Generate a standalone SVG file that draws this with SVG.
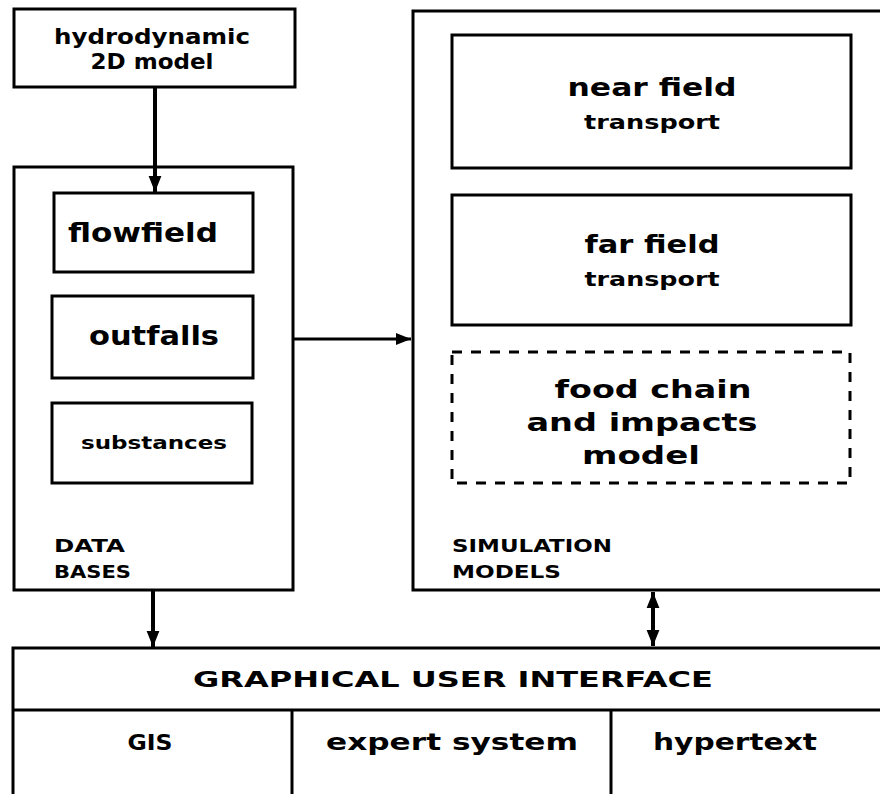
<svg xmlns="http://www.w3.org/2000/svg" width="880" height="794" viewBox="0 0 880 794">
<style>
.box{fill:none;stroke:#000;stroke-width:3}
.dash{fill:none;stroke:#000;stroke-width:3;stroke-dasharray:10 9}
.t{font-family:"DejaVu Sans","Liberation Sans",sans-serif;font-weight:bold;fill:#000;text-anchor:middle}
.l{font-family:"DejaVu Sans","Liberation Sans",sans-serif;font-weight:bold;fill:#000;text-anchor:start}
.c{fill:none;stroke:#000}
</style>
<defs>
<marker id="ah" viewBox="0 0 10 10" refX="10" refY="5" markerWidth="4" markerHeight="4" orient="auto-start-reverse" markerUnits="strokeWidth">
<path d="M0,1 L10,5 L0,9 Z" fill="#000"/>
</marker>
<marker id="ahs" viewBox="0 0 10 10" refX="10" refY="5" markerWidth="7" markerHeight="5" orient="auto" markerUnits="strokeWidth">
<path d="M0,1 L10,5 L0,9 Z" fill="#000"/>
</marker>
</defs>
<rect width="880" height="794" fill="#fff"/>

<g id="hydro">
<rect class="box" x="14" y="9" width="281" height="78"/>
<text class="t" x="152" y="44" font-size="21" textLength="196" lengthAdjust="spacingAndGlyphs">hydrodynamic</text>
<text class="t" x="152" y="69" font-size="21" textLength="123" lengthAdjust="spacingAndGlyphs">2D model</text>
</g>

<g id="databases">
<rect class="box" x="14" y="167" width="279" height="423"/>
<text class="l" x="54" y="552" font-size="17" textLength="71" lengthAdjust="spacingAndGlyphs">DATA</text>
<text class="l" x="54" y="578" font-size="17" textLength="77" lengthAdjust="spacingAndGlyphs">BASES</text>
</g>
<g id="flowfield">
<rect class="box" x="54" y="193" width="199" height="79"/>
<text class="t" x="143" y="242" font-size="27" textLength="150" lengthAdjust="spacingAndGlyphs">flowfield</text>
</g>
<g id="outfalls">
<rect class="box" x="52" y="296" width="201" height="82"/>
<text class="t" x="154" y="345" font-size="26" textLength="130" lengthAdjust="spacingAndGlyphs">outfalls</text>
</g>
<g id="substances">
<rect class="box" x="52" y="403" width="200" height="80"/>
<text class="t" x="154" y="449" font-size="18" textLength="146" lengthAdjust="spacingAndGlyphs">substances</text>
</g>

<g id="simmodels">
<path class="box" d="M890,11 H413 V590 H890"/>
<text class="l" x="452" y="552" font-size="17" textLength="160" lengthAdjust="spacingAndGlyphs">SIMULATION</text>
<text class="l" x="452" y="578" font-size="17" textLength="109" lengthAdjust="spacingAndGlyphs">MODELS</text>
</g>
<g id="nearfield">
<rect class="box" x="452" y="35" width="399" height="133"/>
<text class="t" x="652" y="96" font-size="24" textLength="169" lengthAdjust="spacingAndGlyphs">near field</text>
<text class="t" x="652" y="129" font-size="19" textLength="136" lengthAdjust="spacingAndGlyphs">transport</text>
</g>
<g id="farfield">
<rect class="box" x="452" y="195" width="399" height="130"/>
<text class="t" x="652" y="253" font-size="24" textLength="135" lengthAdjust="spacingAndGlyphs">far field</text>
<text class="t" x="652" y="286" font-size="19" textLength="135" lengthAdjust="spacingAndGlyphs">transport</text>
</g>
<g id="foodchain">
<rect class="dash" x="452" y="352" width="398" height="131"/>
<text class="t" x="653" y="398" font-size="25" textLength="197" lengthAdjust="spacingAndGlyphs">food chain</text>
<text class="t" x="642" y="431" font-size="25" textLength="231" lengthAdjust="spacingAndGlyphs">and impacts</text>
<text class="t" x="641" y="464" font-size="25" textLength="118" lengthAdjust="spacingAndGlyphs">model</text>
</g>

<g id="gui">
<rect class="box" x="13" y="648" width="880" height="160"/>
<line class="c" stroke-width="3" x1="13" y1="710" x2="893" y2="710"/>
<line class="c" stroke-width="3" x1="292" y1="710" x2="292" y2="800"/>
<line class="c" stroke-width="3" x1="611" y1="710" x2="611" y2="800"/>
<text class="t" x="453" y="687" font-size="22" textLength="520" lengthAdjust="spacingAndGlyphs">GRAPHICAL USER INTERFACE</text>
<text class="t" x="150" y="750" font-size="22" textLength="45" lengthAdjust="spacingAndGlyphs">GIS</text>
<text class="t" x="452" y="750" font-size="23" textLength="252" lengthAdjust="spacingAndGlyphs">expert system</text>
<text class="t" x="735" y="750" font-size="23" textLength="164" lengthAdjust="spacingAndGlyphs">hypertext</text>
</g>

<g id="connectors">
<line class="c" stroke-width="4" x1="155" y1="87" x2="155" y2="192" marker-end="url(#ah)"/>
<line class="c" stroke-width="3" x1="294" y1="339" x2="411" y2="339" marker-end="url(#ahs)"/>
<line class="c" stroke-width="4" x1="153" y1="591" x2="153" y2="647" marker-end="url(#ah)"/>
<line class="c" stroke-width="4" x1="653" y1="592" x2="653" y2="646" marker-start="url(#ah)" marker-end="url(#ah)"/>
</g>
</svg>
